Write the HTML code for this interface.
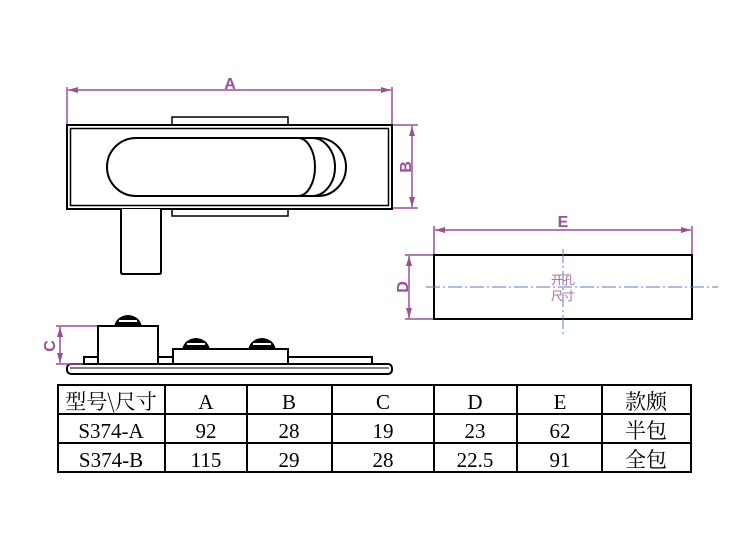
<!DOCTYPE html>
<html><head><meta charset="utf-8"><style>
body{margin:0;background:#fff;width:750px;height:541px;overflow:hidden}
svg{display:block}
</style></head><body>
<svg width="750" height="541" viewBox="0 0 750 541" xmlns="http://www.w3.org/2000/svg">
<defs><marker id="ar" viewBox="0 0 10 6" refX="10" refY="3" markerWidth="8" markerHeight="4" orient="auto-start-reverse"><path d="M0,0L10,3L0,6z" fill="#9b4f96"/></marker></defs>
<g fill="none" stroke="#000" stroke-width="2">
<rect x="172" y="117" width="116" height="8" stroke-width="1.5"/>
<rect x="172" y="208" width="116" height="8" stroke-width="1.5"/>
<rect x="67" y="125" width="325" height="84" fill="#fff"/>
<rect x="70.5" y="128.5" width="318" height="77" stroke-width="1.5"/>
<path d="M121,209 V272 Q121,274 123,274 H159 Q161,274 161,272 V209" fill="#fff"/>
<path d="M300,138 H318 A28,29 0 0 1 318,196 H300" />
<path d="M300,138 H312 A23,29 0 0 1 312,196 H300" />
<path d="M136,138 H298 A17,29 0 0 1 298,196 H136 A29,29 0 0 1 136,138 Z" fill="#fff"/>
<rect x="434" y="255" width="258" height="64"/>
<rect x="67" y="364" width="325" height="10" rx="4"/>
<line x1="70" y1="368" x2="389" y2="368" stroke-width="1"/>
<rect x="84" y="357" width="14" height="7"/>
<rect x="158" y="357" width="15" height="7"/>
<rect x="288" y="357" width="84" height="7"/>
<rect x="98" y="326" width="60" height="38" fill="#fff"/>
<rect x="173" y="349" width="115" height="15" fill="#fff"/>
</g>
<g fill="#000">
<path d="M114,327 Q116,316 128,315 Q140,316 142,327Z"/><path d="M119,321 H137" stroke="#fff" stroke-width="2"/>
<path d="M182,350 Q184,339 196,338 Q208,339 210,350Z"/><path d="M187,344 H205" stroke="#fff" stroke-width="2"/>
<path d="M248,350 Q250,339 262,338 Q274,339 276,350Z"/><path d="M253,344 H271" stroke="#fff" stroke-width="2"/>
</g>
<g stroke="#9b4f96" stroke-width="1.5" fill="none">
<line x1="67" y1="87" x2="67" y2="124"/><line x1="392" y1="87" x2="392" y2="124"/>
<line x1="68" y1="90" x2="391" y2="90" marker-start="url(#ar)" marker-end="url(#ar)"/>
<line x1="393" y1="125" x2="418" y2="125"/><line x1="393" y1="208" x2="418" y2="208"/>
<line x1="412" y1="126" x2="412" y2="207" marker-start="url(#ar)" marker-end="url(#ar)"/>
<line x1="434" y1="226" x2="434" y2="254"/><line x1="692" y1="226" x2="692" y2="254"/>
<line x1="435" y1="230" x2="691" y2="230" marker-start="url(#ar)" marker-end="url(#ar)"/>
<line x1="405" y1="255" x2="433" y2="255"/><line x1="405" y1="319" x2="433" y2="319"/>
<line x1="409" y1="256" x2="409" y2="318" marker-start="url(#ar)" marker-end="url(#ar)"/>
<line x1="56" y1="326" x2="97" y2="326"/><line x1="56" y1="364" x2="83" y2="364"/>
<line x1="60" y1="327" x2="60" y2="363" marker-start="url(#ar)" marker-end="url(#ar)"/>
</g>
<g fill="#9b4f96" font-family="Liberation Sans, sans-serif" font-weight="bold" font-size="16" text-anchor="middle">
<text x="230" y="89">A</text>
<text x="563" y="227">E</text>
<text transform="translate(411,167) rotate(-90)">B</text>
<text transform="translate(408,287) rotate(-90)">D</text>
<text transform="translate(55,346) rotate(-90)">C</text>
</g>
<g stroke="#5a7fbf" stroke-width="1" stroke-dasharray="14,3,2,3">
<line x1="426" y1="287" x2="718" y2="287"/>
<line x1="563" y1="249" x2="563" y2="335"/>
</g>
<g fill="#a06aa0" font-family="'Noto Sans CJK SC', sans-serif" font-size="12" text-anchor="middle">
<text x="563" y="284">开孔</text><text x="563" y="300">尺寸</text>
</g>
<g stroke="#000" stroke-width="2" fill="none">
<rect x="58" y="385" width="633" height="87"/>
<line x1="58" y1="414" x2="691" y2="414"/><line x1="58" y1="443" x2="691" y2="443"/>
<line x1="165" y1="385" x2="165" y2="472"/><line x1="247" y1="385" x2="247" y2="472"/>
<line x1="332" y1="385" x2="332" y2="472"/><line x1="434" y1="385" x2="434" y2="472"/>
<line x1="517" y1="385" x2="517" y2="472"/><line x1="602" y1="385" x2="602" y2="472"/>
</g>
<g font-family="'Liberation Serif', 'Noto Serif CJK SC', serif" font-size="21" text-anchor="middle" fill="#000">
<text x="111" y="409" font-family="'Noto Serif CJK SC', serif" font-size="21">型号\尺寸</text>
<text x="206" y="409">A</text><text x="289" y="409">B</text><text x="383" y="409">C</text><text x="475" y="409">D</text><text x="560" y="409">E</text>
<text x="646" y="409" font-family="'Noto Serif CJK SC', serif">款颇</text>
<text x="111" y="438">S374-A</text><text x="206" y="438">92</text><text x="289" y="438">28</text><text x="383" y="438">19</text><text x="475" y="438">23</text><text x="560" y="438">62</text>
<text x="646" y="438" font-family="'Noto Serif CJK SC', serif">半包</text>
<text x="111" y="467">S374-B</text><text x="206" y="467">115</text><text x="289" y="467">29</text><text x="383" y="467">28</text><text x="475" y="467">22.5</text><text x="560" y="467">91</text>
<text x="646" y="467" font-family="'Noto Serif CJK SC', serif">全包</text>
</g>
</svg>
</body></html>
